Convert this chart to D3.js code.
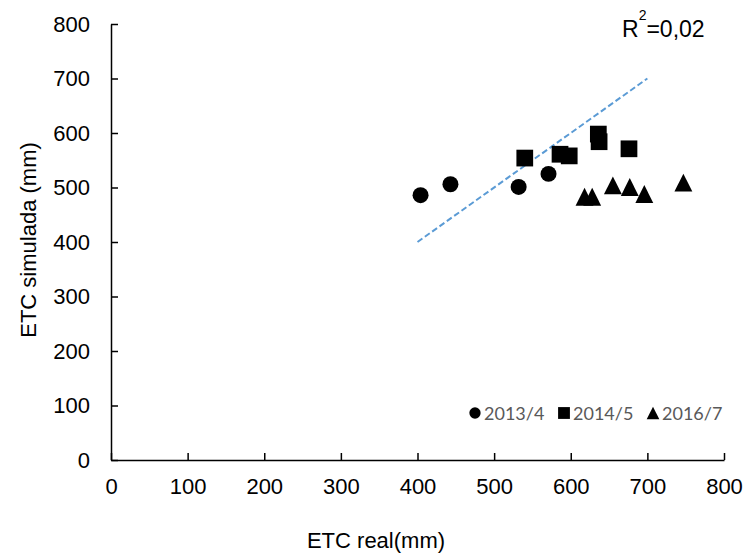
<!DOCTYPE html>
<html>
<head>
<meta charset="utf-8">
<script src="https://cdn.jsdelivr.net/npm/d3@7"></script>
<style>
  body { margin: 0; background: #fff; }
  svg { display: block; }
</style>
</head>
<body>
<div id="chart"></div>
<script>
// dados (ETC real, ETC simulada)
var seriesNames = ["2013/4", "2014/5", "2016/7"];
var real2013 = [404, 443, 532, 571];
var sim2013  = [486, 506, 501, 525];
var real2014 = [540, 586, 598, 636, 637, 676];
var sim2014  = [554, 561, 558, 598, 584, 571];
var real2016 = [618, 628, 655, 677, 696, 747];
var sim2016  = [483, 483, 504, 501, 488, 509];
var lineX = [400, 700];   // linha 1:1
var tickValues = [0, 100, 200, 300, 400, 500, 600, 700, 800];
var r2Label = "0,02";

var width = 747, height = 553;
var margin = {top: 24, right: 23, bottom: 93, left: 111};
var plotWidth = width - margin.left - margin.right;
var plotHeight = height - margin.bottom - margin.top;
var font = "'Liberation Sans', Arial, sans-serif";

var svg = d3.select("#chart").append("svg")
    .attr("width", width).attr("height", height);

var xs = d3.scaleLinear().domain([0, 800]).range([margin.left, margin.left + plotWidth]);
var ys = d3.scaleLinear().domain([0, 800]).range([margin.top + plotHeight, margin.top]);

// triângulo como no Excel (base = altura, centrado na caixa)
var triExcel = {
  draw: function(ctx, size){
    var h = Math.sqrt(size * 2) / 2;
    ctx.moveTo(0, -h);
    ctx.lineTo(h, h);
    ctx.lineTo(-h, h);
    ctx.closePath();
  }
};

var series = [
  {name: seriesNames[0], xv: real2013, yv: sim2013, sym: d3.symbolCircle, size: 201},
  {name: seriesNames[1], xv: real2014, yv: sim2014, sym: d3.symbolSquare, size: 280},
  {name: seriesNames[2], xv: real2016, yv: sim2016, sym: triExcel, size: 160}
];

// eixos
var xAxis = svg.append("g")
    .attr("transform", "translate(0," + ys(0) + ")")
    .call(d3.axisBottom(xs).tickValues(tickValues).tickSize(-7).tickPadding(18).tickSizeOuter(0));
var yAxis = svg.append("g")
    .attr("transform", "translate(" + xs(0) + ",0)")
    .call(d3.axisLeft(ys).tickValues(tickValues).tickSize(-7).tickPadding(21).tickSizeOuter(0));

[xAxis, yAxis].forEach(function(a){
  a.selectAll("path.domain").attr("stroke", "#000").attr("stroke-width", 1.5);
  a.selectAll(".tick line").attr("stroke", "#000").attr("stroke-width", 1.5);
  a.selectAll(".tick text")
    .attr("fill", "#000")
    .style("font-family", font)
    .style("font-size", "22px");
});

// títulos
svg.append("text")
    .attr("x", 376).attr("y", 548)
    .attr("text-anchor", "middle")
    .style("font-family", font)
    .style("font-size", "22px")
    .text("ETC real(mm)");
svg.append("text")
    .attr("transform", "translate(36,240) rotate(-90)")
    .attr("text-anchor", "middle")
    .style("font-family", font)
    .style("font-size", "22px")
    .text("ETC simulada (mm)");

// linha 1:1 tracejada
svg.append("line")
    .attr("x1", xs(lineX[0])).attr("y1", ys(lineX[0]))
    .attr("x2", xs(lineX[1])).attr("y2", ys(lineX[1]))
    .attr("stroke", "#5b9bd5").attr("stroke-width", 2)
    .attr("stroke-dasharray", "6,3");

// pontos
series.forEach(function(s){
  var pts = s.xv.map(function(v, i){ return [v, s.yv[i]]; });
  svg.append("g").selectAll("path").data(pts).enter().append("path")
      .attr("d", d3.symbol().type(s.sym).size(s.size))
      .attr("transform", function(d){ return "translate(" + xs(d[0]) + "," + ys(d[1]) + ")"; })
      .attr("fill", "#000");
});

// R²
var r2 = svg.append("text")
    .attr("x", 622).attr("y", 37)
    .style("font-family", font)
    .style("font-size", "23px");
r2.append("tspan").text("R");
r2.append("tspan").attr("dy", -17).style("font-size", "14px").text("2");
r2.append("tspan").attr("dy", 17).text("=" + r2Label);

// legenda
var legendX = [475, 564, 653];
var leg = svg.append("g");
series.forEach(function(s, i){
  leg.append("path")
      .attr("d", d3.symbol().type(s.sym).size(s.size * 0.5))
      .attr("transform", "translate(" + legendX[i] + ",413)")
      .attr("fill", "#000");
  leg.append("text")
      .attr("x", legendX[i] + 9).attr("y", 420)
      .attr("fill", "#595959")
      .style("font-family", "Lato, 'Open Sans', sans-serif")
      .style("font-size", "18px")
      .text(s.name);
});
</script>
</body>
</html>
